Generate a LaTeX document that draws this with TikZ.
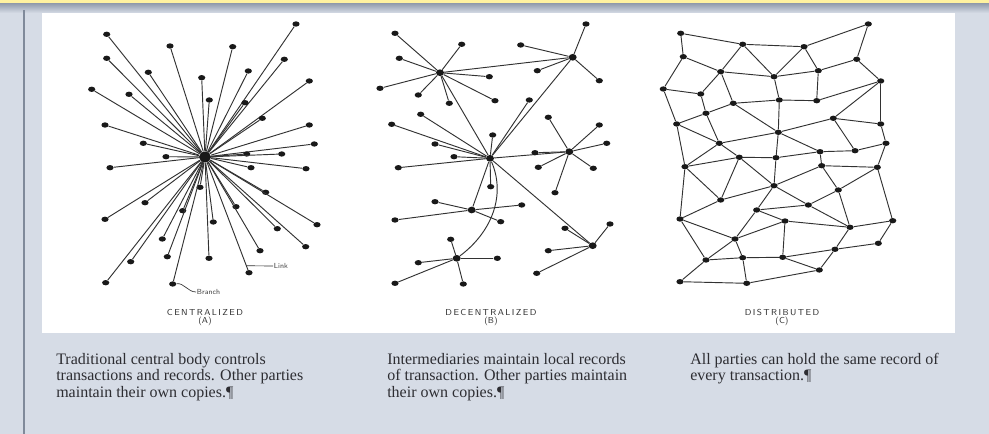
\documentclass[tikz,border=0pt]{standalone}
\usepackage{fontspec}
\setmainfont{Liberation Serif}
\usetikzlibrary{shapes.geometric,calc}

\definecolor{bgblue}{RGB}{214,220,230}
\definecolor{topyellow}{RGB}{255,242,160}
\definecolor{bargray}{RGB}{150,160,176}
\definecolor{rulegray}{RGB}{128,138,154}
\definecolor{linkgray}{RGB}{50,50,50}
\definecolor{textgray}{RGB}{45,45,50}

\tikzset{
  dot/.style={ellipse,fill=black!90,inner sep=0pt,minimum width=5.4pt,minimum height=4pt},
  hub/.style={dot,minimum width=6pt,minimum height=5pt},
  link/.style={draw=linkgray,line width=0.7pt},
  caption/.style={font=\sffamily\fontsize{6.5}{7}\selectfont,text=black!80,inner sep=0pt},
  tag/.style={font=\sffamily\fontsize{5.5}{6}\selectfont,text=black!75,inner sep=0.5pt},
  desc/.style={font=\fontsize{12}{12.3}\selectfont,text=textgray,align=left,inner sep=0pt,anchor=north west}
}

\begin{document}
\begin{tikzpicture}[x=0.75pt,y=0.75pt,yscale=-1,xscale=1]
\useasboundingbox (0,0) rectangle (989,434);

%Background
\fill[bgblue] (0,0) rectangle (989,434);
\fill[topyellow] (0,0) rectangle (989,4);
\shade[top color=bargray,bottom color=bgblue] (0,4) rectangle (989,13);
\draw[rulegray,line width=1.2pt] (24,10) -- (24,434);
\fill[white] (42,13) rectangle (955,333);

%Centralized (A)
\node[hub,minimum width=9pt,minimum height=8pt] (hubA) at (205,157) {};
\foreach \i/\x/\y in {1/106.7/34.3, 2/170/46, 3/232.7/46.7, 4/296/24, 5/284.3/59.3,
    6/248.3/71, 7/106.7/58.3, 8/148.3/72.3, 9/201.7/77.7, 10/209.3/100,
    11/245/102.7, 12/309.3/81, 13/91.7/89.3, 14/129/94.3, 15/262.3/118.3,
    16/105/125, 17/309.3/125, 18/143.3/143.3, 19/314.3/144, 20/166/156.7,
    21/246.7/154, 22/281.7/154, 23/110/167.7, 24/251/167.7, 25/306/168.7,
    26/200/187.3, 27/265.7/192.3, 28/145/202.7, 29/236/206.7, 30/182.7/210.7,
    31/105/219.3, 32/213.3/222, 33/317/224.7, 34/277.3/228.7, 35/162.3/239,
    36/305.7/246.7, 37/260/250.7, 38/167.3/256.7, 39/209/258.3, 40/130.7/261.7,
    41/249/272.7, 42/105.7/282.7, 43/172.7/284}
  {\node[dot] (cA\i) at (\x,\y) {};
   \draw[link] (hubA) -- (cA\i);}

% Text Node
\coordinate (linkpt) at ($(hubA)!0.94!(cA41)$);
\node[tag,anchor=west] (linklbl) at (273,266) {Link};
\draw[link,line width=0.5pt] (linkpt) -- (linklbl.west);
\node[tag,anchor=west] (branchlbl) at (196,292) {Branch};
\draw[link,line width=0.5pt] (cA43) to[out=-15,in=180] (branchlbl.west);

%Decentralized (B)
\node[hub] (dB1) at (440,72.7) {};
\node[hub] (dB2) at (572.7,57.3) {};
\node[hub] (dB3) at (490,158.3) {};
\node[hub] (dB4) at (569.3,151.7) {};
\node[hub] (dB5) at (471.7,210) {};
\node[hub] (dB6) at (456.7,258.3) {};
\node[hub] (dB7) at (592.7,245.7) {};
\foreach \a/\b in {1/2, 1/3, 2/3, 3/4, 3/7, 3/5}
  \draw[link] (dB\a) -- (dB\b);
\draw[link] (dB3) .. controls (506,195) and (492,232) .. (dB6);

\foreach \h/\i/\x/\y in {1/1/395/33.3, 1/2/461.7/44.3, 1/3/399.3/58.3, 1/4/380/88.3,
    1/5/418.3/95, 1/6/449.3/103.3, 1/7/489.3/76.7, 1/8/495/100.7,
    2/1/586/24, 2/2/520.7/45, 2/3/537.3/70.7, 2/4/599.3/80.7,
    3/1/391.7/124.3, 3/2/420.7/114.3, 3/3/435/144, 3/4/398.3/167.7,
    3/5/454/156.7, 3/6/492.7/135, 3/7/490.7/186.7, 3/8/529.3/100,
    4/1/548.3/117.3, 4/2/599.3/125, 4/3/606.7/143.3, 4/4/535/152.7,
    4/5/538.3/167.3, 4/6/593.3/168.3, 4/7/555/192.7,
    5/1/435/201.7, 5/2/395/220, 5/3/521.7/205, 5/4/500.7/221.7,
    6/1/450.7/239.3, 6/2/418.3/262.7, 6/3/395/283.3, 6/4/497.3/258.3, 6/5/463.3/284,
    7/1/610/224, 7/2/565/228.3, 7/3/548.3/250.7, 7/4/536.7/273.3}
  {\node[dot] (dB\h l\i) at (\x,\y) {};
   \draw[link] (dB\h) -- (dB\h l\i);}

%Distributed (C)
\foreach \n/\x/\y in {A1/680.7/33.3, A2/742.7/44.3, A3/804/46.7, A4/868.3/24,
    B1/683.3/56.7, B2/856.7/59.3, C1/720.7/71.7, C2/774/76.7, C3/818.3/70.7,
    C4/880.7/81, D1/663.3/89, D2/700.7/94, D3/733.3/103.3, D4/779.3/100,
    D5/816.7/100.7, E1/706/113.3, E2/833.3/118.3, F1/676.7/124, F2/880.7/124,
    G1/778.3/132.3, H1/719.3/143.3, H2/886/143.3, I1/820/151.7, I2/855/150.7,
    J1/739.3/157.3, J2/776/157.7, K1/685/166.7, K2/821.7/165.7, K3/877.3/167.3,
    L1/774/185.7, M1/838.3/190, N1/720.7/200, O1/756.7/210, O2/808.3/205,
    P1/680/219, P2/785/221, P3/850/227.3, P4/892.7/220.7, Q1/735/239,
    Q2/878.3/243.3, R1/835/249.3, S1/706/260, S2/742.7/257.7, S3/782.7/257.3,
    T1/819.3/270, U1/680/281.7, U2/746.7/283.3}
  {\node[dot] (g\n) at (\x,\y) {};}
\foreach \a/\b in {A1/A2, A2/A3, A3/A4, A1/B1, A4/B2, A2/C1, A2/C2, A3/C2, A3/C3,
    B1/C1, B1/D1, C1/C2, C2/C3, C3/B2, B2/C4, C1/D2, C1/D3, C2/D4, C3/D5,
    D1/D2, D1/F1, D2/E1, D3/D4, D4/D5, D5/C4, E1/D3, E1/F1, E1/H1, F1/H1,
    F1/K1, D3/G1, D4/G1, G1/E2, G1/H1, G1/J2, G1/I1, C4/E2, C4/F2, E2/F2,
    E2/I2, F2/H2, H2/I2, I2/I1, H2/K3, I1/K2, I1/J2, H1/J1, H1/K1, J1/J2,
    J1/K1, K2/K3, K3/M1, K2/M1, K2/L1, J2/L1, J1/L1, J1/N1, K1/N1, K1/P1,
    N1/P1, N1/L1, L1/O1, L1/O2, O1/O2, O1/P2, O1/Q1, P1/Q1, P1/S1, M1/O2,
    M1/P3, O2/P3, P2/Q1, P2/S3, P2/P3, P3/P4, P3/R1, P4/K3, P4/Q2, Q2/R1,
    Q1/S1, Q1/S2, S1/S2, S1/U1, S2/S3, S2/U2, S3/T1, S3/R1, R1/T1, U1/U2, U2/T1}
  \draw[link] (g\a) -- (g\b);

% Text Node
\node[caption] (capA) at (205,312) {C\,E\,N\,T\,R\,A\,L\,I\,Z\,E\,D};
\node[caption] (subA) at (205,321.5) {(A)};
\node[caption] (capB) at (491,312) {D\,E\,C\,E\,N\,T\,R\,A\,L\,I\,Z\,E\,D};
\node[caption] (subB) at (491,321.5) {(B)};
\node[caption] (capC) at (782,312) {D\,I\,S\,T\,R\,I\,B\,U\,T\,E\,D};
\node[caption] (subC) at (782,321.5) {(C)};

% Text Node
\node[desc] (txtA) at (56,353) {Traditional central body controls\\transactions and records. Other parties\\maintain their own copies.¶};
\node[desc] (txtB) at (387,353) {Intermediaries maintain local records\\of transaction. Other parties maintain\\their own copies.¶};
\node[desc] (txtC) at (690,353) {All parties can hold the same record of\\every transaction.¶};

\end{tikzpicture}
\end{document}
